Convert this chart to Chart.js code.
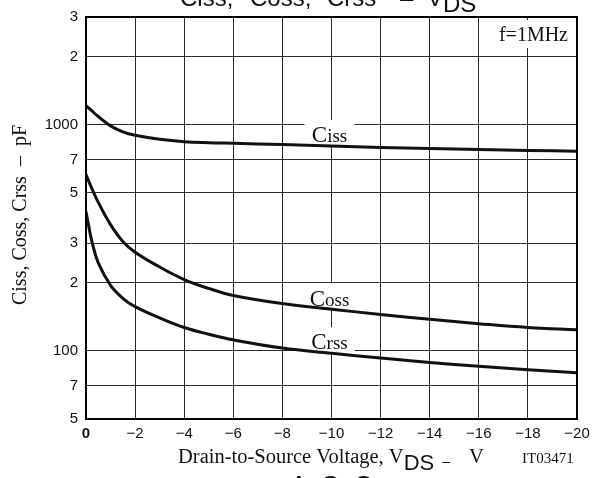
<!DOCTYPE html>
<html>
<head>
<meta charset="utf-8">
<script src="https://cdn.jsdelivr.net/npm/chart.js@4"></script>
<style>
  html, body { margin: 0; padding: 0; background: #fff; }
  canvas { display: block; }
</style>
</head>
<body>
<canvas id="capChart" width="604" height="478"></canvas>
<script>
// Drain-to-source voltage, V
const vds  = [0, -0.1, -0.25, -0.5, -1, -1.5, -2, -3, -4, -5, -6, -8, -10, -12, -14, -16, -18, -20];
// Capacitances, pF
const ciss = [1216, 1189, 1150, 1089, 990, 932, 900, 864, 843, 834, 829, 818, 806, 795, 786, 778, 771, 765];
const coss = [602, 567, 520, 454, 362, 305, 273, 235, 207, 189, 176, 162, 153, 145, 138, 132, 127, 124];
const crss = [413, 362, 302, 245, 195, 171, 157, 140, 127, 118.6, 112, 103, 97.7, 93, 89, 85.5, 82.6, 80];

// Log axis ticks and their printed labels
const yTickValues = [50, 70, 100, 200, 300, 500, 700, 1000, 2000, 3000];
const yTickLabels = ['5', '7', '100', '2', '3', '5', '7', '1000', '2', '3'];

const SANS = "'Liberation Sans', Arial, sans-serif";
const SERIF = "'Liberation Serif', 'Times New Roman', serif";

function toPoints(ys) {
    return vds.map((v, i) => ({ x: v, y: ys[i] }));
}

function lineSet(label, ys) {
    return {
        label: label,
        data: toPoints(ys),
        borderColor: '#111',
        borderWidth: 3,
        pointRadius: 0,
        fill: false,
        tension: 0.4,
        borderJoinStyle: 'round',
        borderCapStyle: 'round'
    };
}

// draws "C" large plus the rest smaller, e.g. Ciss
function drawCapName(ctx, rest, cx, baseline) {
    ctx.font = '23px ' + SERIF;
    const wC = ctx.measureText('C').width;
    ctx.font = '19px ' + SERIF;
    const wR = ctx.measureText(rest).width;
    const x0 = cx - (wC + wR) / 2;
    ctx.textAlign = 'left';
    ctx.textBaseline = 'alphabetic';
    ctx.font = '23px ' + SERIF;
    ctx.fillText('C', x0, baseline);
    ctx.font = '19px ' + SERIF;
    ctx.fillText(rest, x0 + wC, baseline);
    return wC + wR;
}

// white gaps in the grid behind the curve names, then the names
const curveLabels = {
    id: 'curveLabels',
    beforeDatasetsDraw(chart) {
        const ctx = chart.ctx;
        const xs = chart.scales.x, ys = chart.scales.y;
        const cx = xs.getPixelForValue(-10) - 2;
        const names = [
            { rest: 'iss', y: ys.getPixelForValue(840) },
            { rest: 'oss', y: ys.getPixelForValue(158.8) },
            { rest: 'rss', y: ys.getPixelForValue(101.7) }
        ];
        ctx.save();
        names.forEach(n => {
            ctx.fillStyle = '#fff';
            ctx.fillRect(cx - 25, n.y - 22, 50, 27);
            ctx.fillStyle = '#111';
            drawCapName(ctx, n.rest, cx, n.y);
        });

        // frequency note, top right
        const area = chart.chartArea;
        ctx.font = '20px ' + SERIF;
        const fw = ctx.measureText('f=1MHz').width;
        ctx.fillStyle = '#fff';
        ctx.fillRect(area.right - 9 - fw - 6, area.top + 3, fw + 12, 28);
        ctx.fillStyle = '#111';
        ctx.textAlign = 'right';
        ctx.textBaseline = 'alphabetic';
        ctx.fillText('f=1MHz', area.right - 9, area.top + 24);
        ctx.restore();
    }
};

// frame, axis titles and the surrounding page text
const pageText = {
    id: 'pageText',
    afterDraw(chart) {
        const ctx = chart.ctx;
        const area = chart.chartArea;
        ctx.save();
        ctx.strokeStyle = '#000';
        ctx.lineWidth = 2;
        ctx.strokeRect(area.left, area.top, area.right - area.left, area.bottom - area.top);

        ctx.fillStyle = '#111';
        ctx.textAlign = 'left';
        ctx.textBaseline = 'alphabetic';

        // x axis title
        let x = 178;
        ctx.font = '20.5px ' + SERIF;
        ctx.fillText('Drain-to-Source Voltage, V', x, 463);
        x += ctx.measureText('Drain-to-Source Voltage, V').width;
        ctx.font = '22px ' + SANS;
        ctx.fillText('DS', x, 470);
        x += ctx.measureText('DS').width + 8;
        ctx.font = '14px ' + SANS;
        ctx.fillText('\u2013', x, 466);
        x += ctx.measureText('\u2013').width + 19;
        ctx.font = '20.5px ' + SERIF;
        ctx.fillText('V', x, 463);

        ctx.font = '15px ' + SERIF;
        ctx.fillText('IT03471', 522, 463);

        // y axis title
        ctx.save();
        ctx.translate(26, (area.top + area.bottom) / 2 - 3);
        ctx.rotate(-Math.PI / 2);
        ctx.textAlign = 'center';
        ctx.font = '20px ' + SERIF;
        ctx.fillText('Ciss, Coss, Crss  \u2013  pF', 0, 0);
        ctx.restore();

        // heading (mostly above the page edge)
        ctx.font = '24px ' + SANS;
        ctx.fillText('Ciss,', 180, 6);
        ctx.fillText('Coss,', 250, 6);
        ctx.fillText('Crss', 327, 6);
        ctx.fillText('\u2013', 400, 6);
        ctx.fillText('V', 427, 6);
        ctx.fillText('DS', 443, 12);

        // next heading, cut at the bottom edge
        ctx.font = '26px ' + SANS;
        ctx.fillText('A  S  O', 290, 494);
        ctx.restore();
    }
};

new Chart(document.getElementById('capChart'), {
    type: 'line',
    data: {
        datasets: [
            lineSet('Ciss', ciss),
            lineSet('Coss', coss),
            lineSet('Crss', crss)
        ]
    },
    options: {
        responsive: false,
        animation: false,
        devicePixelRatio: 1,
        layout: { padding: { top: 11, right: 27, left: 0, bottom: 0 } },
        plugins: {
            legend: { display: false },
            tooltip: { enabled: false }
        },
        scales: {
            x: {
                type: 'linear',
                min: -20,
                max: 0,
                reverse: true,
                afterFit: scale => { scale.height = 59; },
                border: { display: false },
                grid: { color: '#2a2a2a', lineWidth: 1, drawTicks: false },
                ticks: {
                    stepSize: 2,
                    autoSkip: false,
                    maxRotation: 0,
                    padding: 6,
                    color: '#111',
                    font: ctx => ({
                        family: SANS,
                        size: 15,
                        weight: ctx.tick && ctx.tick.value === 0 ? 'bold' : 'normal'
                    }),
                    callback: v => v === 0 ? '0' : '\u2212' + Math.abs(v)
                }
            },
            y: {
                type: 'logarithmic',
                min: 50,
                max: 3000,
                afterFit: scale => { scale.width = 86; },
                afterBuildTicks: scale => {
                    scale.ticks = yTickValues.map(v => ({ value: v }));
                },
                border: { display: false },
                grid: { color: '#2a2a2a', lineWidth: 1, drawTicks: false },
                ticks: {
                    autoSkip: false,
                    padding: 8,
                    color: '#111',
                    font: { family: SANS, size: 15 },
                    callback: (v, i) => yTickLabels[i]
                }
            }
        }
    },
    plugins: [curveLabels, pageText]
});
</script>
</body>
</html>
